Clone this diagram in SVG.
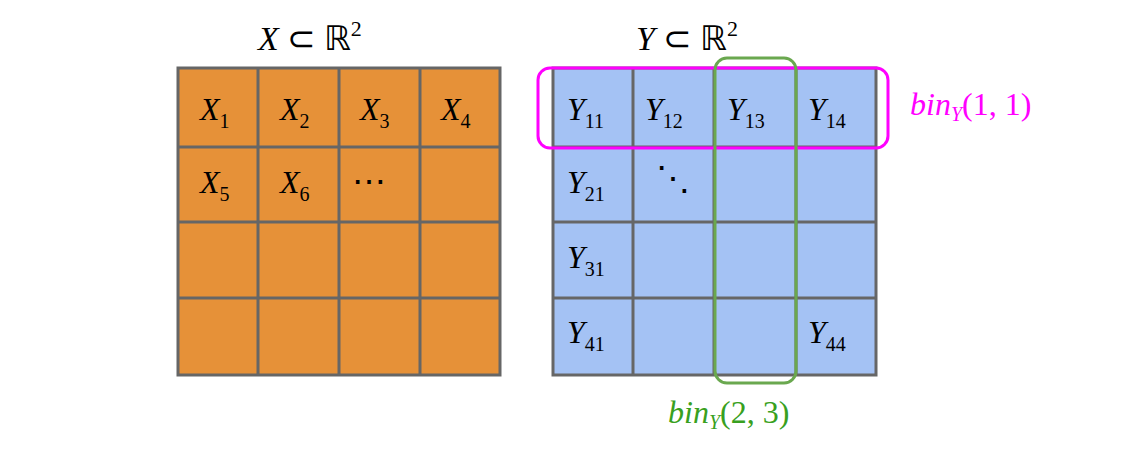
<svg xmlns="http://www.w3.org/2000/svg" width="1141" height="457" viewBox="0 0 1141 457">
<style>
.o{fill:#e69138}.b{fill:#a4c2f4}
.g{stroke:#666;stroke-width:3;fill:none}
.t{font-family:"Liberation Serif",serif;font-style:italic;font-size:32px;fill:#000}
.s{font-size:20px;font-style:normal}
.h{font-family:"Liberation Serif",serif;font-size:34px;fill:#000}
.m{font-family:"Liberation Serif",serif;font-size:32px}
</style>
<rect width="1141" height="457" fill="#fff"/>
<g id="left-grid">
<rect class="o" x="178" y="68" width="322" height="307"/>
<path class="g" d="M178 68H500V375H178Z M258 68V375 M339 68V375 M420 68V375 M178 147H500 M178 222H500 M178 298H500"/>
<text class="t" x="200" y="120">X<tspan class="s" dy="8">1</tspan></text>
<text class="t" x="280" y="120">X<tspan class="s" dy="8">2</tspan></text>
<text class="t" x="360" y="120">X<tspan class="s" dy="8">3</tspan></text>
<text class="t" x="441" y="120">X<tspan class="s" dy="8">4</tspan></text>
<text class="t" x="200" y="193">X<tspan class="s" dy="8">5</tspan></text>
<text class="t" x="280" y="193">X<tspan class="s" dy="8">6</tspan></text>
<text class="h" x="352" y="193">⋯</text>
</g>
<g id="right-grid">
<rect class="b" x="553" y="68" width="323" height="307"/>
<path class="g" d="M553 68H876V375H553Z M633 68V375 M714 68V375 M796 68V375 M553 147H876 M553 222H876 M553 298H876"/>
<text class="t" x="567" y="120">Y<tspan class="s" dy="8">11</tspan></text>
<text class="t" x="645" y="120">Y<tspan class="s" dy="8">12</tspan></text>
<text class="t" x="727" y="120">Y<tspan class="s" dy="8">13</tspan></text>
<text class="t" x="808" y="120">Y<tspan class="s" dy="8">14</tspan></text>
<text class="t" x="567" y="193">Y<tspan class="s" dy="8">21</tspan></text>
<text class="h" x="656" y="190" font-size="26">⋱</text>
<text class="t" x="567" y="268">Y<tspan class="s" dy="8">31</tspan></text>
<text class="t" x="567" y="343">Y<tspan class="s" dy="8">41</tspan></text>
<text class="t" x="808" y="343">Y<tspan class="s" dy="8">44</tspan></text>
</g>
<g id="titles">
<text class="h" x="258" y="50"><tspan font-style="italic">X</tspan> ⊂ ℝ<tspan font-size="22" dy="-14">2</tspan></text>
<text class="h" x="636" y="50"><tspan font-style="italic">Y</tspan> ⊂ ℝ<tspan font-size="22" dy="-14">2</tspan></text>
</g>
<g id="connectors">
<rect x="538" y="68" width="350" height="80" rx="12" fill="none" stroke="#ff00ff" stroke-width="3"/>
<rect x="715" y="58" width="81" height="325" rx="12" fill="none" stroke="#6aa84f" stroke-width="3"/>
</g>
<g id="labels">
<text class="m" x="910" y="115" fill="#ff00ff"><tspan font-style="italic">bin</tspan><tspan font-style="italic" font-size="20" dy="6">Y</tspan><tspan dy="-6">(1, 1)</tspan></text>
<text class="m" x="668" y="423" fill="#38a020"><tspan font-style="italic">bin</tspan><tspan font-style="italic" font-size="20" dy="6">Y</tspan><tspan dy="-6">(2, 3)</tspan></text>
</g>
</svg>
